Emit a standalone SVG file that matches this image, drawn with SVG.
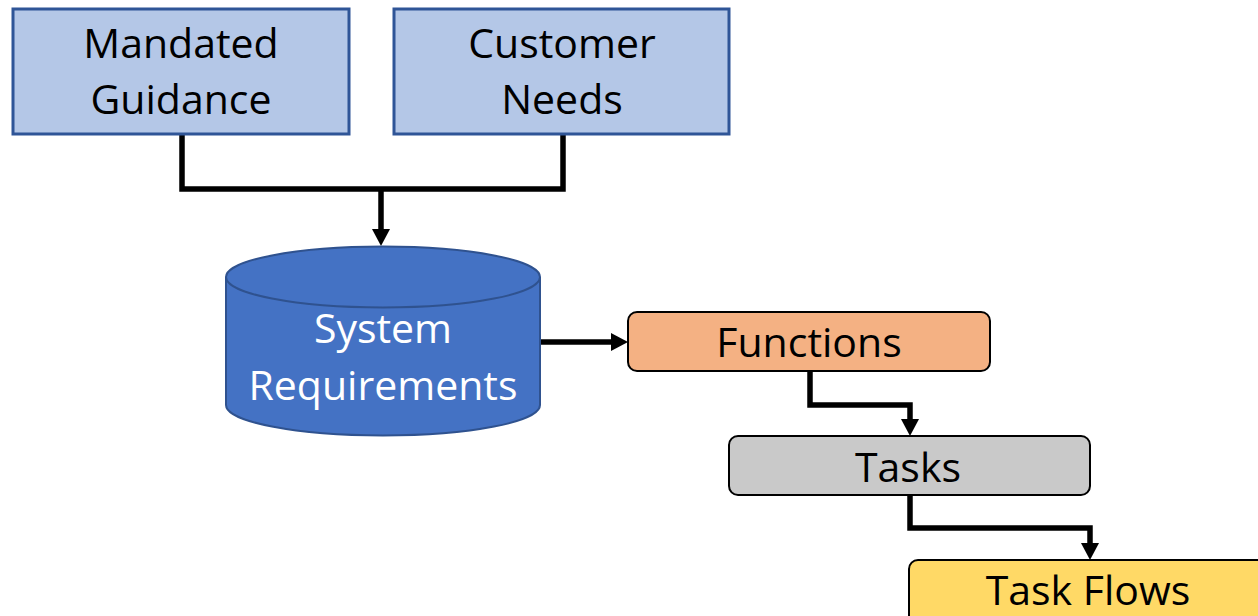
<svg xmlns="http://www.w3.org/2000/svg" width="1258" height="616" viewBox="0 0 1258 616">
<style>
.lbl{font-family:"Open Sans","Liberation Sans",sans-serif;font-size:41px;text-anchor:middle;fill:#000}
.wht{fill:#fff}
.src{fill:#B4C7E7;stroke:#2F5597;stroke-width:3}
.rr{stroke:#000;stroke-width:2}
.con{fill:none;stroke:#000;stroke-width:5.5;stroke-linejoin:miter}
</style>
<defs>
<marker id="ah" viewBox="0 0 17 18" refX="5" refY="9" markerWidth="17" markerHeight="18" orient="auto" markerUnits="userSpaceOnUse">
<path d="M0,0 L17,9 L0,18 Z" fill="#000"/>
</marker>
</defs>
<rect width="1258" height="616" fill="#fff"/>
<g id="connectors">
<path class="con" d="M182,134 V189 H563 V134"/>
<path class="con" d="M381,189 V234" marker-end="url(#ah)"/>
<path class="con" d="M540,342 H616" marker-end="url(#ah)"/>
<path class="con" d="M810,371 V405 H910 V424" marker-end="url(#ah)"/>
<path class="con" d="M910,495 V528 H1090 V548" marker-end="url(#ah)"/>
</g>
<g id="mandated">
<rect class="src" x="13" y="9" width="336" height="125"/>
<text class="lbl" x="181" y="58">Mandated</text>
<text class="lbl" x="181" y="114">Guidance</text>
</g>
<g id="customer">
<rect class="src" x="394" y="9" width="335" height="125"/>
<text class="lbl" x="562" y="58">Customer</text>
<text class="lbl" x="562" y="114">Needs</text>
</g>
<g id="sysreq">
<path d="M226,277 V405 A157,30.5 0 0 0 540,405 V277" fill="#4472C4" stroke="#2F528F" stroke-width="2"/>
<ellipse cx="383" cy="277" rx="157" ry="30.5" fill="#4472C4" stroke="#2F528F" stroke-width="2"/>
<text class="lbl wht" x="383" y="343">System</text>
<text class="lbl wht" x="383" y="400">Requirements</text>
</g>
<g id="functions">
<rect class="rr" x="628" y="312" width="362" height="59" rx="9" fill="#F4B183"/>
<text class="lbl" x="809" y="357">Functions</text>
</g>
<g id="tasks">
<rect class="rr" x="729" y="436" width="361" height="59" rx="9" fill="#C9C9C9"/>
<text class="lbl" x="908" y="482">Tasks</text>
</g>
<g id="taskflows">
<rect class="rr" x="909" y="560" width="360" height="70" rx="9" fill="#FFD966"/>
<text class="lbl" x="1088" y="605">Task Flows</text>
</g>
</svg>
